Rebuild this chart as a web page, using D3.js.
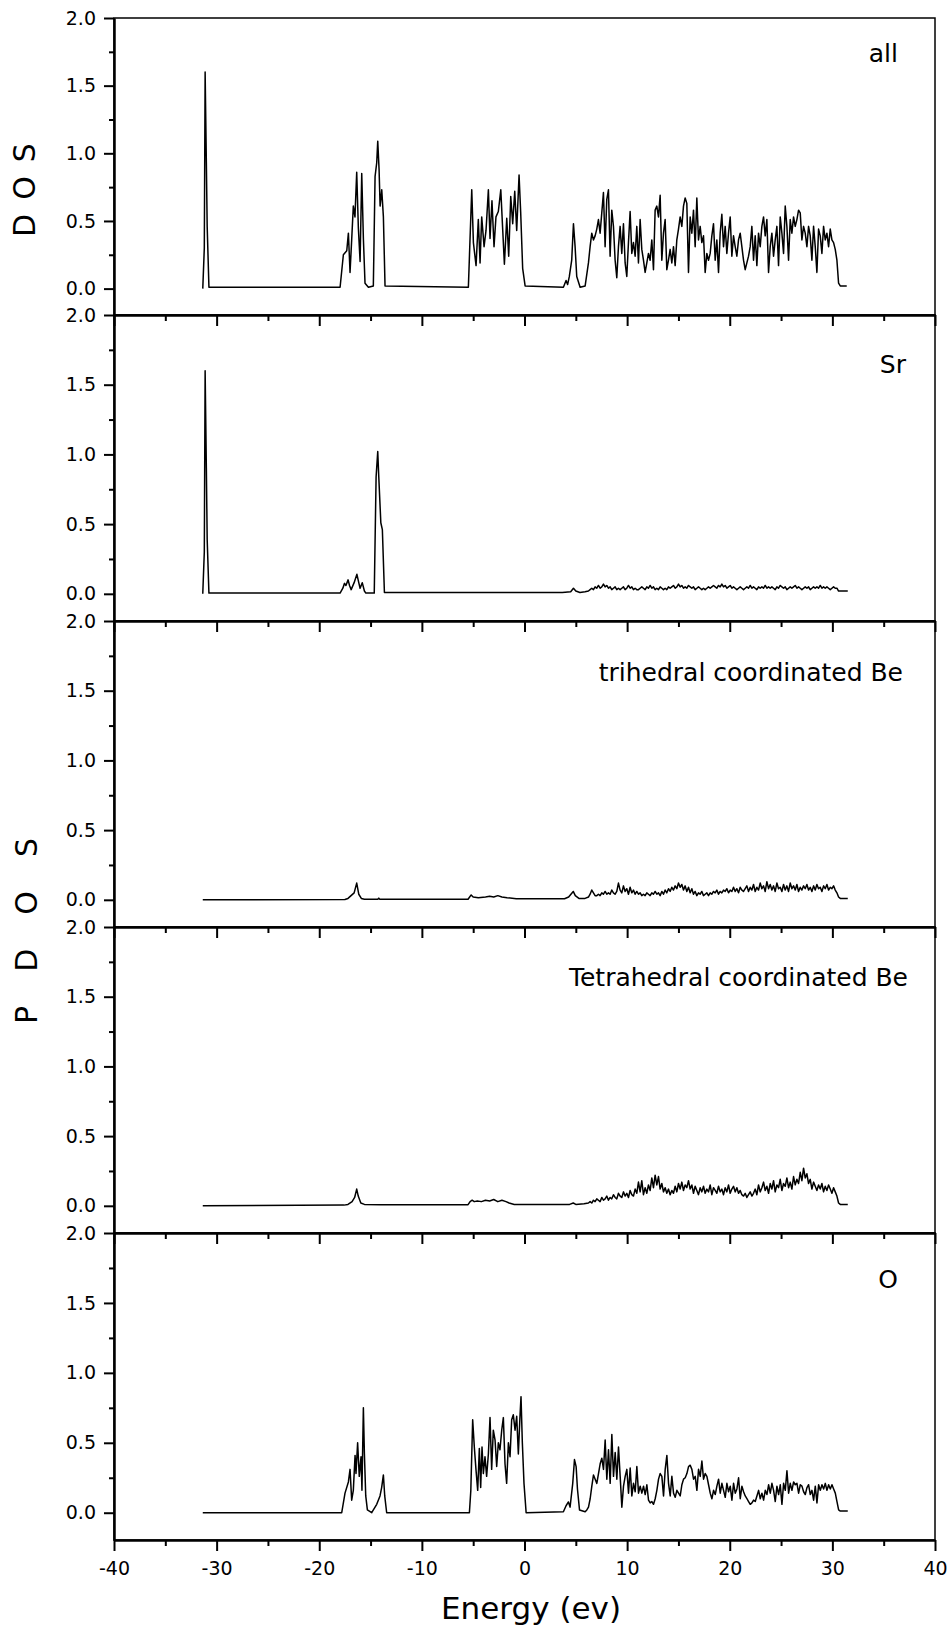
<!DOCTYPE html>
<html>
<head>
<meta charset="utf-8">
<script src="https://cdn.jsdelivr.net/npm/d3@7"></script>
<style>
  html, body { margin: 0; padding: 0; background: #fff; }
  svg { display: block; font-family: "DejaVu Sans", sans-serif; }
</style>
</head>
<body>
<div id="chart"></div>
<script>
// =========================================================
//  DOS / PDOS stacked panels (total, Sr, Be(3), Be(4), O)
// =========================================================

// ---- axes ----
const energyTicks = [-40, -30, -20, -10, 0, 10, 20, 30, 40];
const energyMinor = [-35, -25, -15, -5, 5, 15, 25, 35];
const dosTicks = [0, 0.5, 1.0, 1.5, 2.0];
const dosMinor = [0.25, 0.75, 1.25, 1.75];
const panelNames = ['all', 'Sr', 'trihedral coordinated Be', 'Tetrahedral coordinated Be', 'O'];

// bands above ~6 eV are sampled every BAND_STEP eV
const BAND_STEP = 0.1625;

// ---- total DOS ----
const allPeaks = [
  [-31.35,0],[-31.2,0.3],[-31.12,1.6],[-31.0,0.93],[-30.92,0.46],[-30.75,0.01],
  [-17.97,0.01],[-17.65,0.25],[-17.32,0.28],[-17.16,0.41],[-17.0,0.12],[-16.84,0.36],[-16.68,0.61],
  [-16.52,0.53],[-16.35,0.86],[-16.19,0.45],[-16.02,0.2],[-15.86,0.85],[-15.7,0.37],[-15.54,0.04],[-15.21,0.01],
  [-14.73,0.02],[-14.56,0.83],[-14.4,0.93],[-14.3,1.09],[-14.17,0.88],[-14.07,0.61],[-13.91,0.73],[-13.75,0.53],[-13.59,0.02],
  [-5.47,0.01],[-5.14,0.73],[-4.98,0.34],[-4.72,0.17],[-4.5,0.51],[-4.33,0.19],[-4.17,0.53],[-3.94,0.31],[-3.75,0.43],
  [-3.52,0.73],[-3.36,0.37],[-3.17,0.65],[-2.97,0.31],[-2.78,0.53],[-2.55,0.57],[-2.31,0.73],[-2.12,0.43],[-1.96,0.18],
  [-1.73,0.52],[-1.54,0.24],[-1.34,0.68],[-1.15,0.48],[-0.95,0.72],[-0.76,0.43],[-0.53,0.84],[-0.37,0.56],[-0.18,0.15],[0.06,0.02],
  [3.79,0.01],[4.05,0.06],[4.2,0.03],[4.37,0.09],[4.6,0.21],[4.77,0.48],[4.93,0.31],[5.09,0.09],[5.42,0.01],[5.91,0.02],
  [31.4,0.02]
];
const allBandStart = 6.23;
const allBand = [
  0.19,0.31,0.41,0.36,0.39,0.44,0.51,0.41,0.56,0.71,
  0.31,0.66,0.73,0.24,0.58,0.46,0.21,0.08,0.31,0.46,
  0.26,0.48,0.19,0.09,0.34,0.57,0.26,0.34,0.24,0.46,
  0.19,0.51,0.29,0.21,0.12,0.19,0.26,0.21,0.36,0.14,
  0.58,0.61,0.53,0.69,0.21,0.41,0.51,0.14,0.21,0.29,
  0.19,0.31,0.17,0.36,0.44,0.53,0.46,0.61,0.67,0.63,
  0.12,0.53,0.41,0.58,0.31,0.67,0.36,0.46,0.34,0.39,
  0.12,0.26,0.21,0.26,0.39,0.48,0.21,0.36,0.12,0.41,
  0.55,0.31,0.46,0.26,0.41,0.53,0.24,0.39,0.31,0.24,
  0.36,0.41,0.31,0.21,0.14,0.19,0.24,0.31,0.46,0.21,
  0.39,0.17,0.41,0.31,0.46,0.53,0.39,0.51,0.12,0.31,
  0.41,0.24,0.36,0.46,0.17,0.53,0.41,0.26,0.61,0.46,
  0.21,0.51,0.41,0.53,0.46,0.51,0.58,0.56,0.36,0.46,
  0.41,0.31,0.46,0.39,0.21,0.46,0.31,0.12,0.44,0.39,
  0.26,0.46,0.36,0.41,0.31,0.44,0.36,0.34,0.29,0.21,
  0.04,0.02
];

// ---- Sr ----
const srPeaks = [
  [-31.35,0],[-31.2,0.3],[-31.12,1.6],[-31.0,0.9],[-30.92,0.39],[-30.75,0.005],
  [-17.97,0.005],[-17.7,0.04],[-17.54,0.075],[-17.4,0.06],[-17.19,0.1],[-17.05,0.06],[-16.89,0.03],
  [-16.6,0.08],[-16.33,0.14],[-16.15,0.08],[-16.02,0.04],[-15.81,0.08],[-15.6,0.02],[-15.46,0.005],
  [-14.64,0.005],[-14.46,0.84],[-14.3,1.02],[-14.2,0.84],[-14.0,0.51],[-13.85,0.46],[-13.65,0.01],
  [-5.4,0.01],[3.68,0.01],[4.5,0.015],[4.77,0.04],[5.0,0.02],[5.4,0.01],[5.9,0.015],
  [31.5,0.02]
];
const srBandStart = 6.23;
const srBand = [
  0.02,0.03,0.04,0.03,0.05,0.04,0.06,0.04,0.05,0.07,
  0.05,0.06,0.04,0.05,0.03,0.04,0.05,0.03,0.04,0.03,
  0.04,0.05,0.03,0.04,0.06,0.04,0.05,0.03,0.04,0.03,
  0.03,0.04,0.05,0.04,0.03,0.05,0.04,0.06,0.04,0.05,
  0.03,0.04,0.03,0.05,0.04,0.03,0.04,0.03,0.05,0.04,
  0.05,0.06,0.04,0.05,0.07,0.05,0.06,0.04,0.05,0.04,
  0.06,0.05,0.04,0.05,0.03,0.04,0.05,0.04,0.03,0.04,
  0.03,0.04,0.05,0.04,0.05,0.06,0.05,0.04,0.06,0.05,
  0.07,0.05,0.06,0.04,0.05,0.06,0.04,0.05,0.04,0.03,
  0.04,0.05,0.04,0.03,0.04,0.05,0.04,0.06,0.04,0.05,
  0.04,0.03,0.05,0.04,0.05,0.04,0.06,0.04,0.05,0.04,
  0.05,0.04,0.03,0.05,0.04,0.06,0.05,0.04,0.05,0.03,
  0.04,0.05,0.04,0.05,0.06,0.04,0.05,0.04,0.03,0.04,
  0.05,0.04,0.05,0.03,0.04,0.05,0.04,0.05,0.04,0.06,
  0.04,0.05,0.04,0.05,0.04,0.03,0.04,0.05,0.04,0.04,
  0.02,0.02
];

// ---- trihedral Be ----
const be3Peaks = [
  [-31.35,0],[-17.5,0.002],[-17.2,0.01],[-16.9,0.03],[-16.6,0.05],[-16.35,0.12],[-16.15,0.04],[-15.9,0.01],
  [-15.6,0.004],[-14.3,0.004],[-14.2,0.012],[-14.1,0.004],
  [-5.5,0.004],[-5.2,0.035],[-5.0,0.02],[-4.5,0.015],[-3.8,0.02],[-3.4,0.025],[-3.0,0.02],[-2.6,0.03],
  [-2.2,0.02],[-1.7,0.015],[-0.8,0.008],[3.9,0.008],[4.3,0.02],[4.75,0.06],[4.95,0.03],[5.3,0.01],[5.9,0.01],
  [31.5,0.01]
];
const be3BandStart = 6.23;
const be3Band = [
  0.02,0.04,0.07,0.05,0.03,0.03,0.04,0.03,0.05,0.04,
  0.06,0.04,0.05,0.04,0.07,0.05,0.04,0.06,0.12,0.07,
  0.05,0.10,0.06,0.08,0.04,0.09,0.05,0.07,0.04,0.06,
  0.04,0.05,0.03,0.04,0.03,0.05,0.04,0.03,0.05,0.04,
  0.06,0.04,0.05,0.03,0.06,0.04,0.07,0.05,0.08,0.06,
  0.09,0.07,0.10,0.08,0.12,0.09,0.11,0.07,0.10,0.06,
  0.09,0.05,0.08,0.04,0.06,0.03,0.05,0.04,0.06,0.03,
  0.04,0.05,0.03,0.05,0.04,0.06,0.05,0.07,0.04,0.06,
  0.05,0.07,0.06,0.08,0.05,0.07,0.06,0.09,0.06,0.08,
  0.05,0.09,0.07,0.06,0.08,0.10,0.06,0.09,0.07,0.11,
  0.06,0.09,0.07,0.12,0.08,0.10,0.06,0.13,0.08,0.11,
  0.07,0.10,0.06,0.12,0.08,0.09,0.06,0.11,0.07,0.10,
  0.06,0.12,0.08,0.10,0.07,0.11,0.06,0.09,0.07,0.10,
  0.08,0.11,0.07,0.09,0.06,0.10,0.07,0.11,0.08,0.09,
  0.06,0.10,0.08,0.11,0.07,0.09,0.08,0.10,0.07,0.05,
  0.02,0.01
];

// ---- tetrahedral Be ----
const be4Peaks = [
  [-31.35,0],[-17.6,0.005],[-17.2,0.01],[-16.8,0.03],[-16.55,0.06],[-16.35,0.12],[-16.2,0.07],[-15.95,0.02],
  [-15.6,0.01],[-14.0,0.008],
  [-5.5,0.008],[-5.3,0.03],[-5.1,0.04],[-4.9,0.03],[-4.6,0.035],[-4.2,0.03],[-3.8,0.04],[-3.4,0.035],
  [-3.0,0.045],[-2.6,0.03],[-2.2,0.04],[-1.8,0.03],[-1.5,0.02],[-1.0,0.01],
  [4.4,0.01],[4.75,0.02],[5.0,0.01],[5.8,0.015],
  [31.5,0.01]
];
const be4BandStart = 6.23;
const be4Band = [
  0.02,0.03,0.02,0.04,0.03,0.05,0.04,0.03,0.06,0.04,
  0.05,0.07,0.04,0.06,0.05,0.08,0.06,0.05,0.09,0.07,
  0.06,0.10,0.07,0.09,0.06,0.11,0.08,0.07,0.12,0.09,
  0.17,0.10,0.18,0.08,0.13,0.09,0.15,0.11,0.20,0.13,
  0.22,0.15,0.21,0.12,0.16,0.10,0.13,0.09,0.12,0.08,
  0.11,0.09,0.14,0.10,0.16,0.12,0.17,0.11,0.15,0.13,
  0.18,0.12,0.15,0.09,0.14,0.11,0.08,0.13,0.10,0.14,
  0.09,0.12,0.10,0.15,0.08,0.13,0.11,0.09,0.14,0.10,
  0.12,0.08,0.13,0.10,0.15,0.09,0.12,0.14,0.10,0.13,
  0.09,0.11,0.08,0.07,0.09,0.06,0.08,0.10,0.07,0.09,
  0.12,0.08,0.15,0.10,0.13,0.17,0.11,0.14,0.09,0.16,
  0.12,0.18,0.10,0.15,0.13,0.19,0.11,0.16,0.14,0.20,
  0.13,0.17,0.12,0.21,0.15,0.19,0.16,0.24,0.18,0.27,
  0.20,0.23,0.16,0.19,0.12,0.17,0.14,0.11,0.15,0.12,
  0.16,0.10,0.14,0.11,0.15,0.12,0.09,0.13,0.10,0.07,
  0.02,0.01
];

// ---- O ----
const oPeaks = [
  [-31.35,0],[-17.81,0],[-17.49,0.14],[-17.16,0.22],[-17.0,0.31],[-16.84,0.09],[-16.68,0.16],[-16.51,0.41],
  [-16.42,0.28],[-16.26,0.5],[-16.1,0.26],[-15.93,0.4],[-15.84,0.16],[-15.7,0.75],[-15.6,0.42],[-15.47,0.12],
  [-15.31,0.02],[-14.89,0],[-14.4,0.06],[-14.08,0.12],[-13.92,0.18],[-13.75,0.27],[-13.62,0.12],[-13.43,0],
  [-5.37,0],[-5.23,0.16],[-5.05,0.665],[-4.89,0.47],[-4.73,0.31],[-4.56,0.16],[-4.4,0.46],[-4.27,0.18],
  [-4.14,0.47],[-4.01,0.28],[-3.85,0.40],[-3.69,0.26],[-3.52,0.42],[-3.36,0.68],[-3.2,0.31],[-3.04,0.59],
  [-2.87,0.52],[-2.71,0.33],[-2.55,0.5],[-2.39,0.45],[-2.22,0.59],[-2.06,0.68],[-1.9,0.35],[-1.74,0.21],
  [-1.57,0.5],[-1.41,0.4],[-1.25,0.665],[-1.09,0.7],[-0.92,0.59],[-0.76,0.69],[-0.6,0.42],[-0.44,0.69],
  [-0.34,0.83],[-0.21,0.5],[-0.05,0.21],[0.16,0],
  [3.79,0.007],[4.05,0.05],[4.28,0.077],[4.44,0.04],[4.7,0.21],[4.87,0.38],[5.03,0.33],[5.16,0.17],[5.36,0.02],
  [31.5,0.012]
];
const oBandStart = 5.91;
const oBand = [
  0.007,0.02,0.04,0.10,0.19,0.27,0.24,0.21,0.28,0.35,
  0.39,0.31,0.52,0.24,0.45,0.21,0.56,0.26,0.43,0.24,
  0.47,0.26,0.04,0.19,0.26,0.31,0.14,0.32,0.12,0.21,
  0.15,0.33,0.14,0.19,0.14,0.19,0.13,0.20,0.09,0.07,
  0.08,0.06,0.10,0.16,0.24,0.28,0.26,0.12,0.31,0.41,
  0.21,0.12,0.26,0.14,0.11,0.16,0.14,0.12,0.20,0.24,
  0.25,0.28,0.33,0.34,0.31,0.24,0.26,0.16,0.31,0.26,
  0.37,0.24,0.28,0.26,0.20,0.14,0.10,0.16,0.13,0.19,
  0.24,0.14,0.21,0.16,0.11,0.21,0.15,0.19,0.09,0.21,
  0.14,0.17,0.25,0.10,0.19,0.15,0.12,0.10,0.08,0.06,
  0.07,0.09,0.08,0.12,0.16,0.10,0.14,0.09,0.16,0.13,
  0.20,0.14,0.21,0.16,0.08,0.19,0.13,0.20,0.06,0.21,
  0.16,0.30,0.14,0.21,0.16,0.22,0.20,0.21,0.14,0.20,
  0.19,0.15,0.13,0.18,0.20,0.13,0.16,0.09,0.19,0.07,
  0.20,0.16,0.20,0.17,0.21,0.16,0.20,0.17,0.20,0.17,
  0.14,0.08,0.02,0.012
];

// ---- layout ----
const W = 948, H = 1634;
const plotLeft = 114, plotRight = 935;
const panelTops = [18, 315, 621, 927, 1233];
const plotBottom = 1540;
const labelPos = [[898, 62], [906, 373], [903, 681], [908, 986], [898, 1288]];

function buildCurve(peaks, bandStart, band) {
  const pts = peaks.concat(band.map((v, i) => [bandStart + i * BAND_STEP, v]));
  return pts.sort((a, b) => a[0] - b[0]);
}

const curves = [
  buildCurve(allPeaks, allBandStart, allBand),
  buildCurve(srPeaks, srBandStart, srBand),
  buildCurve(be3Peaks, be3BandStart, be3Band),
  buildCurve(be4Peaks, be4BandStart, be4Band),
  buildCurve(oPeaks, oBandStart, oBand)
];

const svg = d3.select('#chart')
  .append('svg')
  .attr('width', W)
  .attr('height', H)
  .attr('viewBox', `0 0 ${W} ${H}`);

const x = d3.scaleLinear().domain([-40, 40]).range([plotLeft, plotRight]);

curves.forEach((data, i) => {
  const top = panelTops[i];
  const bottom = i < panelTops.length - 1 ? panelTops[i + 1] : plotBottom;
  const y = d3.scaleLinear().domain([-0.195, 2]).range([bottom, top]);
  const g = svg.append('g').attr('class', 'panel');

  // thin frame (top + right)
  g.append('rect')
    .attr('x', plotLeft).attr('y', top)
    .attr('width', plotRight - plotLeft).attr('height', bottom - top)
    .attr('fill', 'none').attr('stroke', '#000').attr('stroke-width', 1.5);

  // y axis: minor then major
  g.append('g')
    .attr('transform', `translate(${plotLeft},0)`)
    .call(d3.axisLeft(y).tickValues(dosMinor).tickSize(5).tickFormat(''))
    .call(s => s.select('.domain').remove());

  g.append('g')
    .attr('transform', `translate(${plotLeft},0)`)
    .call(d3.axisLeft(y).tickValues(dosTicks).tickSize(10).tickSizeOuter(0)
      .tickPadding(8).tickFormat(d3.format('.1f')))
    .attr('font-size', 19).attr('font-family', '"DejaVu Sans", sans-serif');

  // x axis along the bottom of each panel
  g.append('g')
    .attr('transform', `translate(0,${bottom})`)
    .call(d3.axisBottom(x).tickValues(energyMinor).tickSize(6).tickFormat(''))
    .call(s => s.select('.domain').remove());

  const last = i === curves.length - 1;
  g.append('g')
    .attr('transform', `translate(0,${bottom})`)
    .call(d3.axisBottom(x).tickValues(energyTicks).tickSize(11).tickSizeOuter(0)
      .tickPadding(11).tickFormat(last ? d => String(d) : ''))
    .attr('font-size', 19).attr('font-family', '"DejaVu Sans", sans-serif');

  // curve
  g.append('path')
    .datum(data)
    .attr('d', d3.line().x(d => x(d[0])).y(d => y(d[1])))
    .attr('fill', 'none')
    .attr('stroke', '#000')
    .attr('stroke-width', 1.5)
    .attr('stroke-linejoin', 'round');

  // panel label
  g.append('text')
    .attr('x', labelPos[i][0]).attr('y', labelPos[i][1])
    .attr('text-anchor', 'end')
    .attr('font-size', 25)
    .attr('fill', '#000')
    .text(panelNames[i]);
});

svg.selectAll('.tick line').attr('stroke', '#000').attr('stroke-width', 2);
svg.selectAll('.domain').attr('stroke', '#000').attr('stroke-width', 2.5);
svg.selectAll('.tick text').attr('fill', '#000');

// axis titles
svg.append('text')
  .attr('transform', 'translate(35,190) rotate(-90)')
  .attr('text-anchor', 'middle')
  .attr('dx', 7)
  .attr('font-size', 30)
  .attr('letter-spacing', 14)
  .text('DOS');

svg.append('text')
  .attr('transform', 'translate(37,931) rotate(-90)')
  .attr('text-anchor', 'middle')
  .attr('dx', 17)
  .attr('font-size', 30)
  .attr('letter-spacing', 34)
  .text('PDOS');

svg.append('text')
  .attr('x', 531).attr('y', 1619)
  .attr('text-anchor', 'middle')
  .attr('font-size', 31)
  .text('Energy (ev)');
</script>
</body>
</html>
